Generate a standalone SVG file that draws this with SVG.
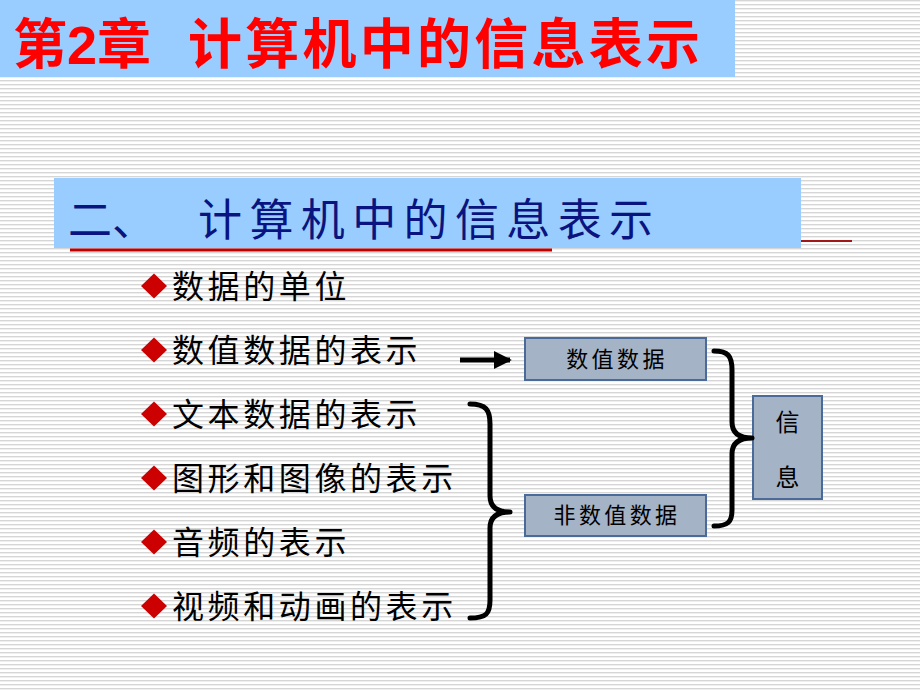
<svg xmlns="http://www.w3.org/2000/svg" width="920" height="690" viewBox="0 0 920 690">
<defs>
<pattern id="stripes" x="0" y="0" width="920" height="4" patternUnits="userSpaceOnUse">
<rect x="0" y="0" width="920" height="1.4" fill="#d6d6d6"/>
</pattern>
<marker id="arrow" viewBox="0 0 10 10" refX="9" refY="5" markerWidth="3.6" markerHeight="3.6" orient="auto" markerUnits="strokeWidth">
<path d="M0,0 L10,5 L0,10 Z" fill="#000"/>
</marker>
<style>
.cjk{font-family:"Noto Sans CJK SC","Liberation Sans",sans-serif;}
.item{font-size:32px;fill:#000;letter-spacing:3.6px;}
.dia{fill:#cc0000;}
.box{fill:#a4b3c5;stroke:#4a6a98;stroke-width:2;}
.boxtext{font-size:22px;fill:#000;letter-spacing:3.4px;text-anchor:middle;}
.brace{fill:none;stroke:#000;stroke-width:5;stroke-linecap:round;stroke-linejoin:round;}
</style>
</defs>
<rect width="920" height="690" fill="#fff"/>
<rect width="920" height="690" fill="url(#stripes)"/>

<g id="title">
<rect x="0" y="0" width="735" height="77" fill="#99ccff"/>
<text class="cjk" x="13" y="64" font-size="54" font-weight="bold" fill="#ff0000">第<tspan font-family="Liberation Sans" font-weight="bold">2</tspan>章</text>
<text class="cjk" x="188" y="64" font-size="54" font-weight="bold" fill="#ff0000" textLength="512" lengthAdjust="spacing">计算机中的信息表示</text>
</g>

<g id="section">
<rect x="54" y="178" width="747" height="70" fill="#99ccff"/>
<line x1="70" y1="250" x2="552" y2="250" stroke="#c00000" stroke-width="3"/>
<line x1="801" y1="241" x2="852" y2="241" stroke="#a01818" stroke-width="2"/>
<text class="cjk" x="68" y="236" font-size="44" fill="#0a1480">二、</text>
<text class="cjk" x="198" y="236" font-size="44" fill="#0a1480" textLength="455" lengthAdjust="spacing">计算机中的信息表示</text>
</g>

<g id="item1"><path class="dia" d="M141,286 L154,273.5 L167,286 L154,298.5 Z"/><text class="cjk item" x="172" y="298">数据的单位</text></g>
<g id="item2"><path class="dia" d="M141,350 L154,337.5 L167,350 L154,362.5 Z"/><text class="cjk item" x="172" y="362">数值数据的表示</text></g>
<g id="item3"><path class="dia" d="M141,414 L154,401.5 L167,414 L154,426.5 Z"/><text class="cjk item" x="172" y="426">文本数据的表示</text></g>
<g id="item4"><path class="dia" d="M141,478 L154,465.5 L167,478 L154,490.5 Z"/><text class="cjk item" x="172" y="490">图形和图像的表示</text></g>
<g id="item5"><path class="dia" d="M141,542 L154,529.5 L167,542 L154,554.5 Z"/><text class="cjk item" x="172" y="554">音频的表示</text></g>
<g id="item6"><path class="dia" d="M141,606 L154,593.5 L167,606 L154,618.5 Z"/><text class="cjk item" x="172" y="618">视频和动画的表示</text></g>

<g id="numeric">
<rect class="box" x="525" y="338" width="181" height="42"/>
<text class="cjk boxtext" x="617" y="367">数值数据</text>
</g>
<g id="nonnumeric">
<rect class="box" x="525" y="495" width="181" height="41"/>
<text class="cjk boxtext" x="617" y="523">非数值数据</text>
</g>
<g id="info">
<rect class="box" x="753" y="396" width="69" height="103"/>
<text class="cjk" x="787.5" y="431" font-size="24" text-anchor="middle" fill="#000">信</text>
<text class="cjk" x="787.5" y="486" font-size="24" text-anchor="middle" fill="#000">息</text>
</g>

<g id="connectors">
<line x1="460" y1="360" x2="510" y2="360" stroke="#000" stroke-width="5" marker-end="url(#arrow)"/>
<path class="brace" d="M470,404 C486,404 490,410 490,424 L490,496 C490,506 496,512 510,512 C496,512 490,518 490,528 L490,600 C490,614 486,618 470,618"/>
<path class="brace" d="M714,351 C728,351 732,356 732,370 L732,422 C732,432 738,438 752,438 C738,438 732,444 732,454 L732,510 C732,522 728,526 714,526"/>
</g>
</svg>
